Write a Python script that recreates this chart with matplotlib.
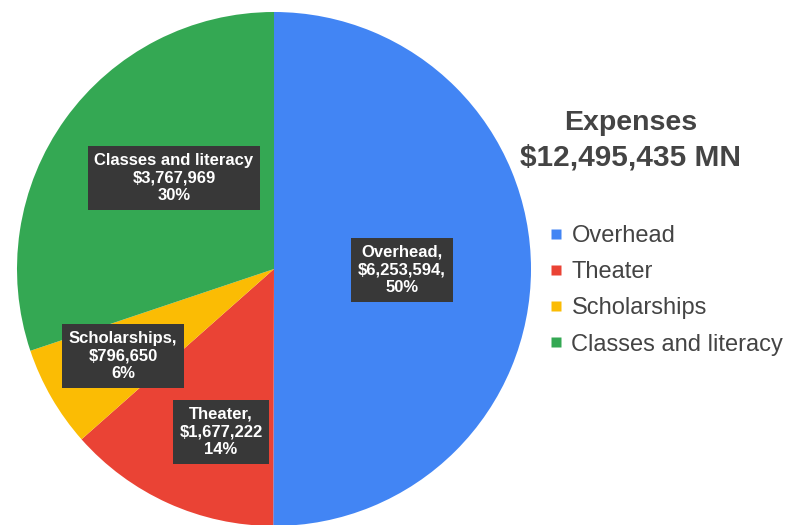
import matplotlib
matplotlib.use("Agg")
import matplotlib.pyplot as plt
from matplotlib.lines import Line2D

plt.rcParams['font.family'] = ['Liberation Sans', 'DejaVu Sans']

categories = ["Overhead", "Theater", "Scholarships", "Classes and literacy"]
values = [6253594, 1677222, 796650, 3767969]
colors = ["#4285F4", "#EA4335", "#FBBC04", "#34A853"]
box_labels = ["Overhead,\n$6,253,594,\n50%",
              "Theater,\n$1,677,222\n14%",
              "Scholarships,\n$796,650\n6%",
              "Classes and literacy\n$3,767,969\n30%"]
title_lines = ["Expenses", "$12,495,435 MN"]

W, H = 791, 525
fig = plt.figure(figsize=(W / 100, H / 100), dpi=100)
fig.patch.set_facecolor("white")

cx, cy, r = 274, 269, 257
ax = fig.add_axes([(cx - r) / W, (H - cy - r) / H, 2 * r / W, 2 * r / H])
wedges, _ = ax.pie(values, colors=colors, startangle=90, counterclock=False,
                   radius=1.0, wedgeprops=dict(linewidth=0))
ax.set_xlim(-1, 1)
ax.set_ylim(-1, 1)
ax.set_aspect("auto")
ax.axis("off")

# label positions in pixel coords of the figure (layout only)
label_px = [(402, 270), (221, 432), (123, 356), (174, 178)]
for (px, py), txt in zip(label_px, box_labels):
    ax.text((px - cx) / r, (cy - py) / r, txt, ha="center", va="center",
            color="white", fontsize=12, fontweight="bold", linespacing=1.22,
            bbox=dict(boxstyle="square,pad=0.4", facecolor="#383838",
                      edgecolor="none"))

fig.text(631 / W, 1 - 123 / H, title_lines[0], ha="center", va="center",
         fontsize=20.5, fontweight="bold", color="#444444")
fig.text(630 / W, 1 - 157 / H, title_lines[1], ha="center", va="center",
         fontsize=21.5, fontweight="bold", color="#444444")

handles = [Line2D([], [], marker="s", linestyle="none", markersize=7,
                  markerfacecolor=c, markeredgecolor="none") for c in colors]
leg = fig.legend(handles, categories, loc="upper left",
                 bbox_to_anchor=(549 / W, 1 - 225 / H), frameon=False,
                 fontsize=17, handlelength=0.6, handletextpad=0.35,
                 labelspacing=0.6, borderaxespad=0, borderpad=0)
for t in leg.get_texts():
    t.set_color("#444444")

fig.savefig("out.png", dpi=100)
